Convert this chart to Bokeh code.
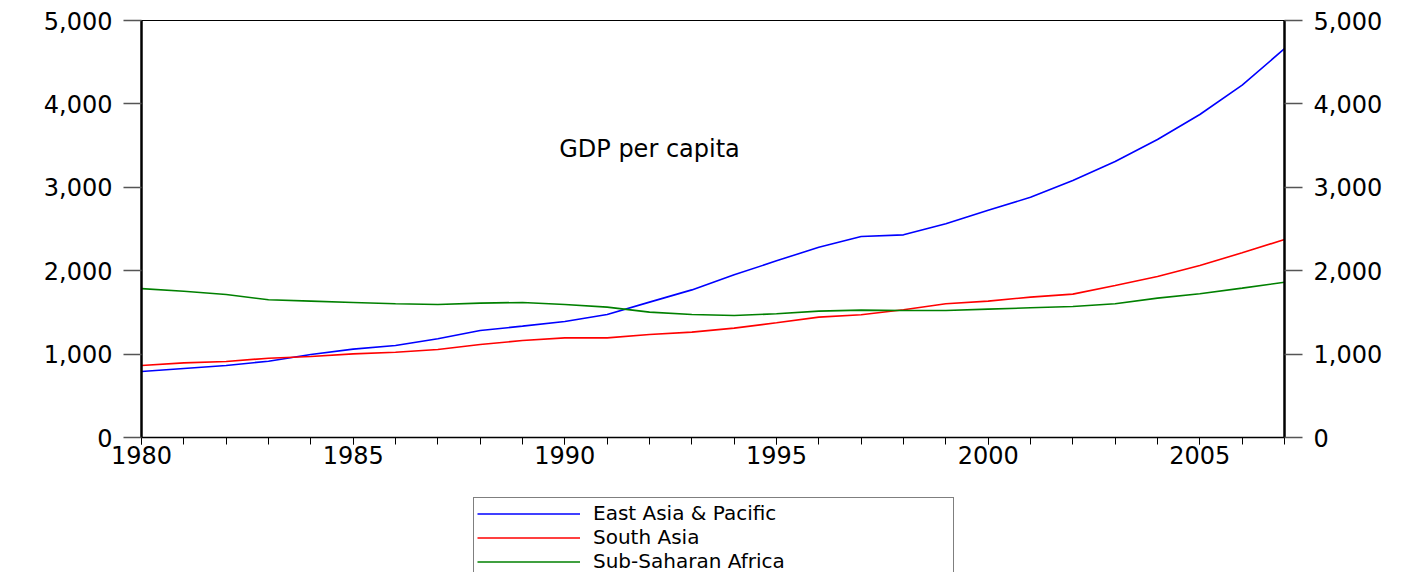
from bokeh.plotting import figure
from bokeh.layouts import column
from bokeh.models import (LinearAxis, SingleIntervalTicker, NumeralTickFormatter,
                          Range1d, Legend, LegendItem, FixedTicker)
from bokeh.core.properties import value
from bokeh.embed import file_html
from bokeh.resources import INLINE

years = list(range(1980, 2008))
east_asia = [791, 828, 863, 915, 995, 1060, 1103, 1185, 1283, 1335, 1391, 1475,
             1623, 1770, 1951, 2118, 2282, 2410, 2430, 2562, 2725, 2880, 3082,
             3309, 3573, 3873, 4225, 4662]
south_asia = [863, 895, 911, 951, 971, 1003, 1023, 1055, 1115, 1163, 1195, 1195,
              1235, 1263, 1311, 1375, 1443, 1471, 1531, 1603, 1635, 1683, 1719,
              1823, 1931, 2062, 2215, 2374]
ss_africa = [1785, 1754, 1715, 1651, 1635, 1619, 1603, 1595, 1611, 1619, 1595, 1563,
             1503, 1475, 1463, 1483, 1515, 1527, 1523, 1523, 1539, 1555, 1571,
             1603, 1671, 1723, 1791, 1862]
series_names = ["East Asia & Pacific", "South Asia", "Sub-Saharan Africa"]
series_colors = ["#0000ff", "#ff0000", "#008000"]
title_text = "GDP per capita"

FONT = "DejaVu Sans"
FS = "24px"

p = figure(width=1418, height=480, output_backend="svg", toolbar_location=None,
           x_range=Range1d(1980, 2007), y_range=Range1d(0, 5000),
           min_border_left=141, min_border_right=134, min_border_top=20,
           min_border_bottom=43, y_axis_location="left")
p.xgrid.visible = False
p.ygrid.visible = False
p.outline_line_color = "black"
p.outline_line_width = 1
p.background_fill_color = "white"
p.border_fill_color = "white"

for ys, c in zip([east_asia, south_asia, ss_africa], series_colors):
    p.line(years, ys, line_color=c, line_width=1.6)

# x axis
xa = p.xaxis[0]
xa.ticker = SingleIntervalTicker(interval=5, num_minor_ticks=5)
xa.axis_line_color = "black"
xa.axis_line_width = 1.5
xa.major_tick_in = 0
xa.major_tick_out = 7
xa.minor_tick_in = 0
xa.minor_tick_out = 7
xa.major_tick_line_color = "black"
xa.minor_tick_line_color = "black"
xa.major_label_text_font = FONT
xa.major_label_text_font_size = FS
xa.major_label_text_color = "black"
xa.major_label_standoff = 1

def style_y(ax):
    ax.ticker = FixedTicker(ticks=[0, 1000, 2000, 3000, 4000, 5000])
    ax.formatter = NumeralTickFormatter(format="0,0")
    ax.axis_line_color = "black"
    ax.axis_line_width = 2.5
    ax.major_tick_in = 0
    ax.major_tick_out = 18
    ax.minor_tick_line_color = None
    ax.major_tick_line_color = "#555555"
    ax.major_tick_line_width = 1.5
    ax.major_label_text_font = FONT
    ax.major_label_text_font_size = FS
    ax.major_label_text_color = "black"
    ax.major_label_standoff = 11

style_y(p.yaxis[0])
ra = LinearAxis()
style_y(ra)
p.add_layout(ra, "right")

# title inside the plot
p.text(x=[1992], y=[3465], text=[title_text], text_font=value(FONT),
       text_font_size=FS, text_align="center", text_baseline="middle",
       text_color="black")

# legend panel below the chart (series drawn out of view, only used as legend keys)
lf = figure(width=1418, height=92, output_backend="svg", toolbar_location=None,
            x_range=Range1d(1980, 2007), y_range=Range1d(-20000, -10000),
            min_border_left=0, min_border_right=0, min_border_top=0,
            min_border_bottom=0, x_axis_type=None, y_axis_type=None)
lf.xgrid.visible = False
lf.ygrid.visible = False
lf.outline_line_color = None
lf.background_fill_color = "white"
lf.border_fill_color = "white"
keys = []
for ys, c in zip([east_asia, south_asia, ss_africa], series_colors):
    keys.append(lf.line(years, ys, line_color=c, line_width=1.6))

legend = Legend(items=[LegendItem(label=n, renderers=[r]) for n, r in zip(series_names, keys)],
                location=(332, -5), orientation="vertical")
legend.label_text_font = FONT
legend.label_text_font_size = "20px"
legend.label_text_color = "black"
legend.label_height = 23
legend.glyph_height = 23
legend.glyph_width = 103
legend.label_width = 357
legend.label_standoff = 13
legend.spacing = 0
legend.padding = 3
legend.margin = 0
legend.border_line_color = "black"
legend.border_line_width = 1.5
legend.background_fill_alpha = 1
lf.add_layout(legend, "center")

open("out.html", "w").write(file_html(column(p, lf, spacing=0), INLINE))
